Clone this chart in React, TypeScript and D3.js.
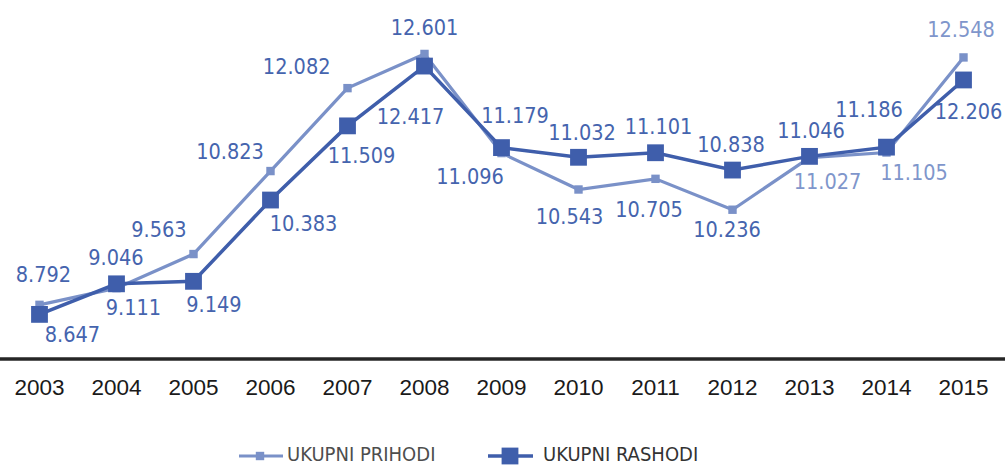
import React from "react";
import * as d3 from "d3";

const years = ["2003","2004","2005","2006","2007","2008","2009","2010","2011","2012","2013","2014","2015"];
const prihodi = [8.792, 9.046, 9.563, 10.823, 12.082, 12.601, 11.096, 10.543, 10.705, 10.236, 11.027, 11.105, 12.548];
const rashodi = [8.647, 9.111, 9.149, 10.383, 11.509, 12.417, 11.179, 11.032, 11.101, 10.838, 11.046, 11.186, 12.206];
const seriesNames = ["UKUPNI PRIHODI", "UKUPNI RASHODI"];

// label placement offsets (dx, dy from point to label centre)
const prihodiLabelOffsets: [number, number][] = [
  [4, -31], [-0.5, -30.6], [-34.5, -25], [-40.5, -19.5], [-50.8, -22], [0, -27],
  [-31.5, 23], [-9, 26.5], [-6.5, 30], [-5.5, 19.3], [18, 23.4], [27.5, 20], [-2.5, -28.4],
];
const rashodiLabelOffsets: [number, number][] = [
  [33, 19.6], [17, 23], [20.5, 22.7], [33, 23], [14, 29], [-14, 50],
  [13.5, -32], [3.5, -25], [3, -27], [-1.5, -26], [1.5, -26], [-17.5, -37.5], [5, 31],
];
const prihodiLabelLight = [false, false, false, false, false, false, false, false, false, false, true, true, true];

const W = 1005;
const H = 465;
const LIGHT = "#7a91c8";
const DARK = "#3f5eab";
const LABEL_DARK = "#4564ae";
const LABEL_LIGHT = "#7f96cb";
const LABEL_FONT = "'DejaVu Sans Condensed', 'DejaVu Sans', sans-serif";
const LABEL_SIZE = 21.5;

export default function App() {
  const x = d3.scalePoint<string>().domain(years).range([39.5, 963.5]);
  const y = d3.scaleLinear().domain([8, 13.42]).range([357, 0]);

  const line = d3
    .line<number>()
    .x((_, i) => x(years[i]) as number)
    .y((d) => y(d));

  const fmt = (v: number) => v.toFixed(3);
  const baseShift = LABEL_SIZE * 0.729 / 2;

  return (
    <svg
      width={W}
      height={H}
      style={{ position: "absolute", left: 0, top: 0, background: "#fff" }}
    >
      {/* axis */}
      <line x1={0} x2={W} y1={359} y2={359} stroke="#262626" strokeWidth={3.5} />
      {years.map((yr) => (
        <text
          key={yr}
          x={x(yr)}
          y={395}
          textAnchor="middle"
          fontFamily="'Liberation Sans', Arial, sans-serif"
          fontSize={22.5}
          fill="#1a1a1a"
        >
          {yr}
        </text>
      ))}

      {/* PRIHODI line */}
      <path d={line(prihodi) || ""} fill="none" stroke={LIGHT} strokeWidth={3.2} />
      {prihodi.map((v, i) => (
        <rect
          key={"pm" + i}
          x={(x(years[i]) as number) - 4.2}
          y={y(v) - 4.2}
          width={8.4}
          height={8.4}
          fill={LIGHT}
        />
      ))}

      {/* RASHODI line */}
      <path d={line(rashodi) || ""} fill="none" stroke={DARK} strokeWidth={3.5} />
      {rashodi.map((v, i) => (
        <rect
          key={"rm" + i}
          x={(x(years[i]) as number) - 8.4}
          y={y(v) - 8.4}
          width={16.8}
          height={16.8}
          fill={DARK}
        />
      ))}

      {/* labels */}
      {prihodi.map((v, i) => (
        <text
          key={"pl" + i}
          x={(x(years[i]) as number) + prihodiLabelOffsets[i][0]}
          y={y(v) + prihodiLabelOffsets[i][1] + baseShift}
          textAnchor="middle"
          fontFamily={LABEL_FONT}
          fontSize={LABEL_SIZE}
          fill={prihodiLabelLight[i] ? LABEL_LIGHT : LABEL_DARK}
        >
          {fmt(v)}
        </text>
      ))}
      {rashodi.map((v, i) => (
        <text
          key={"rl" + i}
          x={(x(years[i]) as number) + rashodiLabelOffsets[i][0]}
          y={y(v) + rashodiLabelOffsets[i][1] + baseShift}
          textAnchor="middle"
          fontFamily={LABEL_FONT}
          fontSize={LABEL_SIZE}
          fill={LABEL_DARK}
        >
          {fmt(v)}
        </text>
      ))}

      {/* legend */}
      <g>
        <line x1={239} x2={283} y1={456} y2={456} stroke={LIGHT} strokeWidth={3.2} />
        <rect x={255.8} y={451.8} width={8.4} height={8.4} fill={LIGHT} />
        <text x={287} y={461} fontFamily={LABEL_FONT} fontSize={20} fill="#4d4d4d">
          {seriesNames[0]}
        </text>
        <line x1={488} x2={533} y1={456} y2={456} stroke={DARK} strokeWidth={3.5} />
        <rect x={501.6} y={447.6} width={16.8} height={16.8} fill={DARK} />
        <text x={543} y={461} fontFamily={LABEL_FONT} fontSize={20} fill="#333333">
          {seriesNames[1]}
        </text>
      </g>
    </svg>
  );
}
